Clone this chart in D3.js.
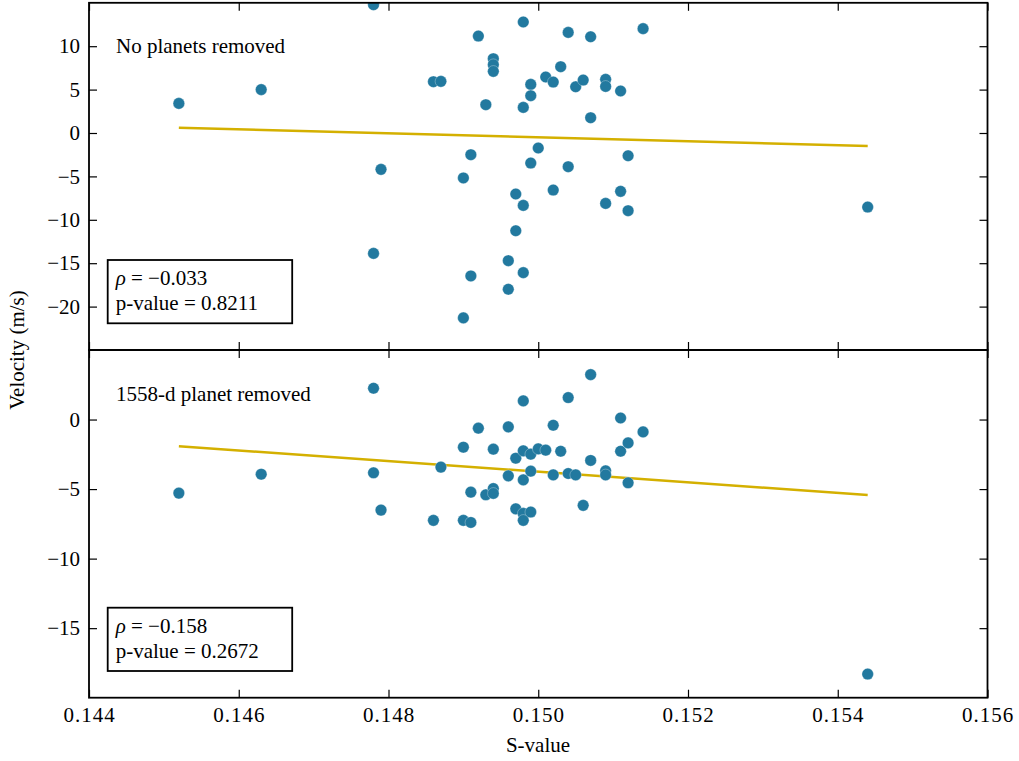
<!DOCTYPE html>
<html>
<head>
<meta charset="utf-8">
<script src="https://cdn.jsdelivr.net/npm/d3@7"></script>
<style>
  html, body { margin: 0; padding: 0; background: #fff; font-family: "Liberation Serif", serif; }
  svg { display: block; }
  svg text { font-family: "Liberation Serif", serif !important; }
</style>
</head>
<body>
<svg id="chart" width="1019" height="761" style="font-family: 'Liberation Serif', serif;"></svg>
<script>
// ---------- data ----------
const sValueTop = [0.1452,0.1463,0.1478,0.1478,0.1479,0.1486,0.1487,0.1490,0.1490,0.1491,0.1491,0.1492,0.1493,0.1494,0.1494,0.1494,0.1496,0.1496,0.1497,0.1497,0.1498,0.1498,0.1498,0.1498,0.1499,0.1499,0.1499,0.1500,0.1501,0.1502,0.1502,0.1503,0.1504,0.1504,0.1505,0.1506,0.1507,0.1507,0.1509,0.1509,0.1509,0.1511,0.1511,0.1512,0.1512,0.1514,0.1544];
const velocityTop = [3.41,5.0,14.78,-13.87,-4.19,5.91,5.95,-5.18,-21.3,-2.5,-16.47,11.17,3.26,8.56,7.87,7.1,-14.71,-18.0,-7.03,-11.26,12.79,2.95,-8.34,-16.09,5.6,4.3,-3.46,-1.73,6.45,5.87,-6.57,7.64,11.59,-3.88,5.33,6.1,11.09,1.76,6.18,5.37,-8.11,4.84,-6.72,-2.62,-8.95,12.02,-8.53];

const sValueBottom = [0.1452,0.1463,0.1478,0.1478,0.1479,0.1486,0.1487,0.1490,0.1490,0.1491,0.1491,0.1492,0.1493,0.1494,0.1494,0.1494,0.1496,0.1496,0.1497,0.1497,0.1498,0.1498,0.1498,0.1498,0.1498,0.1499,0.1499,0.1499,0.1500,0.1501,0.1502,0.1502,0.1503,0.1504,0.1504,0.1505,0.1506,0.1507,0.1507,0.1509,0.1509,0.1511,0.1511,0.1512,0.1512,0.1514,0.1544];
const velocityBottom = [-5.29,-3.93,2.25,-3.83,-6.51,-7.25,-3.42,-1.99,-7.25,-7.4,-5.22,-0.62,-5.41,-2.13,-4.96,-5.31,-0.53,-4.05,-2.78,-6.42,1.34,-2.25,-4.34,-6.75,-7.25,-2.49,-3.71,-6.65,-2.11,-2.2,-0.41,-3.98,-2.28,1.58,-3.88,-3.98,-6.17,3.23,-2.94,-3.69,-3.98,0.11,-2.28,-1.68,-4.55,-0.89,-18.3];

// fitted trend lines (endpoints)
const fitX = [0.1452, 0.1544];
const fitTop = [0.61, -1.5];
const fitBottom = [-1.92, -5.43];

const xTicks = [0.144, 0.146, 0.148, 0.150, 0.152, 0.154, 0.156];
const yTicksTop = [10, 5, 0, -5, -10, -15, -20];
const yTicksBottom = [0, -5, -10, -15];

const panelLabels = ["No planets removed", "1558-d planet removed"];
const rhoValues = ["\u22120.033", "\u22120.158"];
const pValues = ["0.8211", "0.2672"];

// ---------- layout ----------
const FONT = '"Liberation Serif", serif';
const svg = d3.select("#chart");
const left = 89, right = 987.5;
const topPanel = {y0: 2.8, y1: 350};
const botPanel = {y0: 350, y1: 697.7};
const pointColor = "#22799f";
const lineColor = "#d4b000";
const fontSize = 21;

const x = d3.scaleLinear().domain([0.144, 0.156]).range([left, right]);
const yTop = d3.scaleLinear().domain([-25, 15]).range([topPanel.y1, topPanel.y0]);
const yBot = d3.scaleLinear().domain([-20, 5]).range([botPanel.y1, botPanel.y0]);

const defs = svg.append("defs");

function styleText(t) {
  return t.attr("font-family", FONT).attr("font-size", fontSize).attr("fill", "#000")
    .style("font-family", FONT).style("font-size", fontSize + "px");
}
function addText(g, xPos, yPos, str) {
  const t = styleText(g.append("text").attr("x", xPos).attr("y", yPos));
  if (str !== null) t.text(str);
  return t;
}

function panel(idx, yScale, p, sArr, vArr, fitY, yTicks, label, rho, pval, box) {
  const g = svg.append("g");
  const clipId = "clip" + idx;
  defs.append("clipPath").attr("id", clipId)
    .append("rect").attr("x", left).attr("y", p.y0).attr("width", right - left).attr("height", p.y1 - p.y0);

  const plot = g.append("g").attr("clip-path", `url(#${clipId})`);

  const line = d3.line().x(d => x(d[0])).y(d => yScale(d[1]));
  plot.append("path")
    .datum(fitX.map((v, i) => [v, fitY[i]]))
    .attr("d", line)
    .attr("fill", "none")
    .attr("stroke", lineColor)
    .attr("stroke-width", 2.4);

  plot.selectAll("circle").data(sArr.map((s, i) => [s, vArr[i]]))
    .join("circle")
    .attr("cx", d => x(d[0]))
    .attr("cy", d => yScale(d[1]))
    .attr("r", 5.8)
    .attr("fill", pointColor)
    .attr("stroke", "#ffffff")
    .attr("stroke-opacity", 0.5)
    .attr("stroke-width", 0.6);

  const yLeft = d3.axisLeft(yScale).tickValues(yTicks).tickSizeInner(-8).tickSizeOuter(0).tickPadding(9)
    .tickFormat(d3.format("d"));
  const yRight = d3.axisRight(yScale).tickValues(yTicks).tickSizeInner(-8).tickSizeOuter(0).tickFormat("");
  const xB = d3.axisBottom(x).tickValues(xTicks).tickSizeInner(-8).tickSizeOuter(0).tickPadding(9)
    .tickFormat(idx === 1 ? d3.format(".3f") : "");
  const xT = d3.axisTop(x).tickValues(xTicks).tickSizeInner(-8).tickSizeOuter(0).tickFormat("");

  const axes = [
    g.append("g").attr("transform", `translate(${left},0)`).call(yLeft),
    g.append("g").attr("transform", `translate(${right},0)`).call(yRight),
    g.append("g").attr("transform", `translate(0,${p.y1})`).call(xB),
    g.append("g").attr("transform", `translate(0,${p.y0})`).call(xT)
  ];
  axes.forEach(a => {
    a.attr("font-family", FONT).attr("font-size", fontSize).style("font-family", FONT);
    a.select(".domain").remove();
    a.selectAll(".tick line").attr("stroke", "#000").attr("stroke-width", 1.2);
    styleText(a.selectAll(".tick text"));
  });
  axes[2].selectAll(".tick text").attr("letter-spacing", 1);

  g.append("rect").attr("x", left).attr("y", p.y0).attr("width", right - left).attr("height", p.y1 - p.y0)
    .attr("fill", "none").attr("stroke", "#000").attr("stroke-width", 1.8);

  addText(g, 116, label.y, label.text);

  g.append("rect").attr("x", box.x).attr("y", box.y).attr("width", box.w).attr("height", box.h)
    .attr("fill", "#fff").attr("stroke", "#000").attr("stroke-width", 1.8);
  const t1 = addText(g, box.x + 8, box.y + 25, null);
  t1.append("tspan").attr("font-style", "italic").text("\u03c1");
  t1.append("tspan").text(" = " + rho);
  addText(g, box.x + 8, box.y + 50, "p-value = " + pval);
}

panel(0, yTop, topPanel, sValueTop, velocityTop, fitTop, yTicksTop,
  {text: panelLabels[0], y: 53}, rhoValues[0], pValues[0], {x: 107.7, y: 260, w: 184.5, h: 63.3});
panel(1, yBot, botPanel, sValueBottom, velocityBottom, fitBottom, yTicksBottom,
  {text: panelLabels[1], y: 401}, rhoValues[1], pValues[1], {x: 107.7, y: 607.7, w: 184.5, h: 63.3});

addText(svg, 538, 752, "S-value").attr("text-anchor", "middle");
addText(svg, 0, 0, "Velocity (m/s)").attr("transform", "translate(24,350) rotate(-90)").attr("text-anchor", "middle");
</script>
</body>
</html>
